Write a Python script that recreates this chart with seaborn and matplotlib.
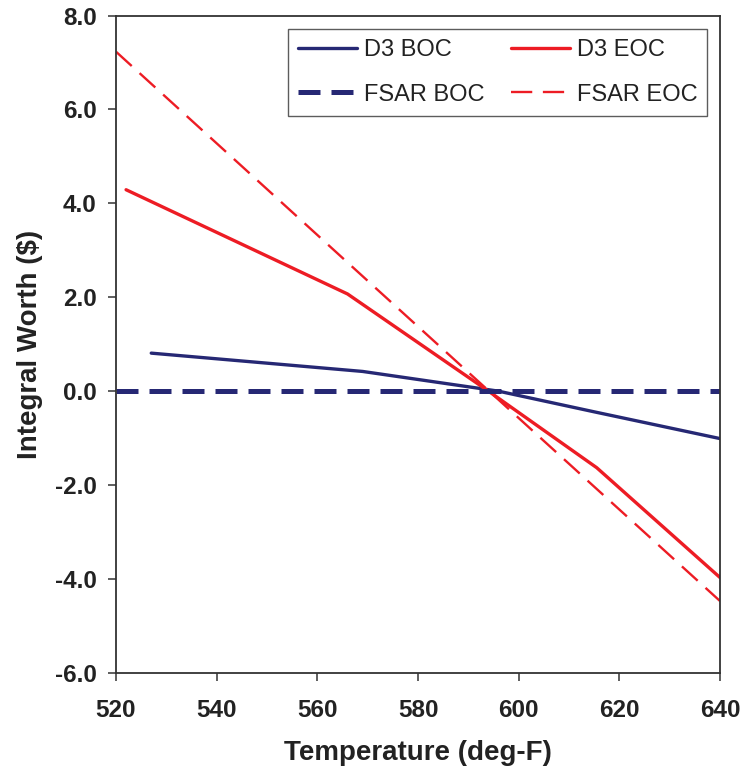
import numpy as np
import pandas as pd
import matplotlib
matplotlib.use('Agg')
import matplotlib.pyplot as plt
import seaborn as sns

# values
d3_boc_t = [527, 569, 596, 615, 640]
d3_boc_w = [0.81, 0.42, 0.0, -0.44, -1.01]

d3_eoc_t = [522, 566, 594, 615.5, 640]
d3_eoc_w = [4.29, 2.07, 0.0, -1.63, -3.97]

fsar_boc_t = [520, 640]
fsar_boc_w = [0.0, 0.0]

fsar_eoc_t = [520, 570, 640]
fsar_eoc_w = [7.23, 2.35, -4.47]

xticks = [520, 540, 560, 580, 600, 620, 640]
yticks = [-6, -4, -2, 0, 2, 4, 6, 8]

navy = '#262874'
red = '#ED1C24'

sns.set_style('white')
plt.rcParams['font.family'] = ['Liberation Sans', 'DejaVu Sans']

fig, ax = plt.subplots(figsize=(7.47, 7.77), dpi=100)
fig.subplots_adjust(left=0.1553, right=0.9639, top=0.980, bottom=0.134)

sns.lineplot(x=d3_boc_t, y=d3_boc_w, color=navy, lw=2.4, label='D3 BOC', ax=ax)
sns.lineplot(x=d3_eoc_t, y=d3_eoc_w, color=red, lw=2.4, label='D3 EOC', ax=ax)
sns.lineplot(x=fsar_boc_t, y=fsar_boc_w, color=navy, lw=3.6,
             linestyle=(0, (4.4, 2.2)), label='FSAR BOC', ax=ax)
sns.lineplot(x=fsar_eoc_t, y=fsar_eoc_w, color=red, lw=1.7,
             linestyle=(0, (9.0, 4.5)), label='FSAR EOC', ax=ax)

ax.set_xlim(520, 640)
ax.set_ylim(-6, 8)
ax.set_xticks(xticks)
ax.set_yticks(yticks)
ax.set_xticklabels([str(v) for v in xticks])
ax.set_yticklabels(['%.1f' % v for v in yticks])

for s in ax.spines.values():
    s.set_visible(True)
    s.set_color('#333333')
    s.set_linewidth(1.3)

ax.tick_params(axis='both', direction='out', length=6, width=1.1, color='#333333',
               labelsize=17.5, labelcolor='#222222')
ax.tick_params(axis='y', pad=8, left=True)
ax.tick_params(axis='x', pad=13, bottom=True)
for lab in ax.get_xticklabels() + ax.get_yticklabels():
    lab.set_fontweight('bold')

ax.set_xlabel('Temperature (deg-F)', fontsize=20, fontweight='bold', color='#222222', va='top')
ax.set_ylabel('Integral Worth ($)', fontsize=20, fontweight='bold', color='#222222')
ax.xaxis.set_label_coords(0.5, -0.102)
ax.yaxis.set_label_coords(-0.121, 0.5)

# legend handles in order: D3 BOC, D3 EOC / FSAR BOC, FSAR EOC (row-wise)
h, l = ax.get_legend_handles_labels()
order = [0, 2, 1, 3]
leg = ax.legend([h[i] for i in order], [l[i] for i in order], ncol=2,
                loc='upper left', bbox_to_anchor=(0.285, 0.979), borderaxespad=0,
                fontsize=17, frameon=True, fancybox=False, edgecolor='#333333',
                handlelength=2.5, handletextpad=0.3, columnspacing=1.1,
                labelspacing=0.95, borderpad=0.42)
leg.get_frame().set_linewidth(1.0)
for t in leg.get_texts():
    t.set_color('#222222')

fig.savefig('out.png', dpi=100)
